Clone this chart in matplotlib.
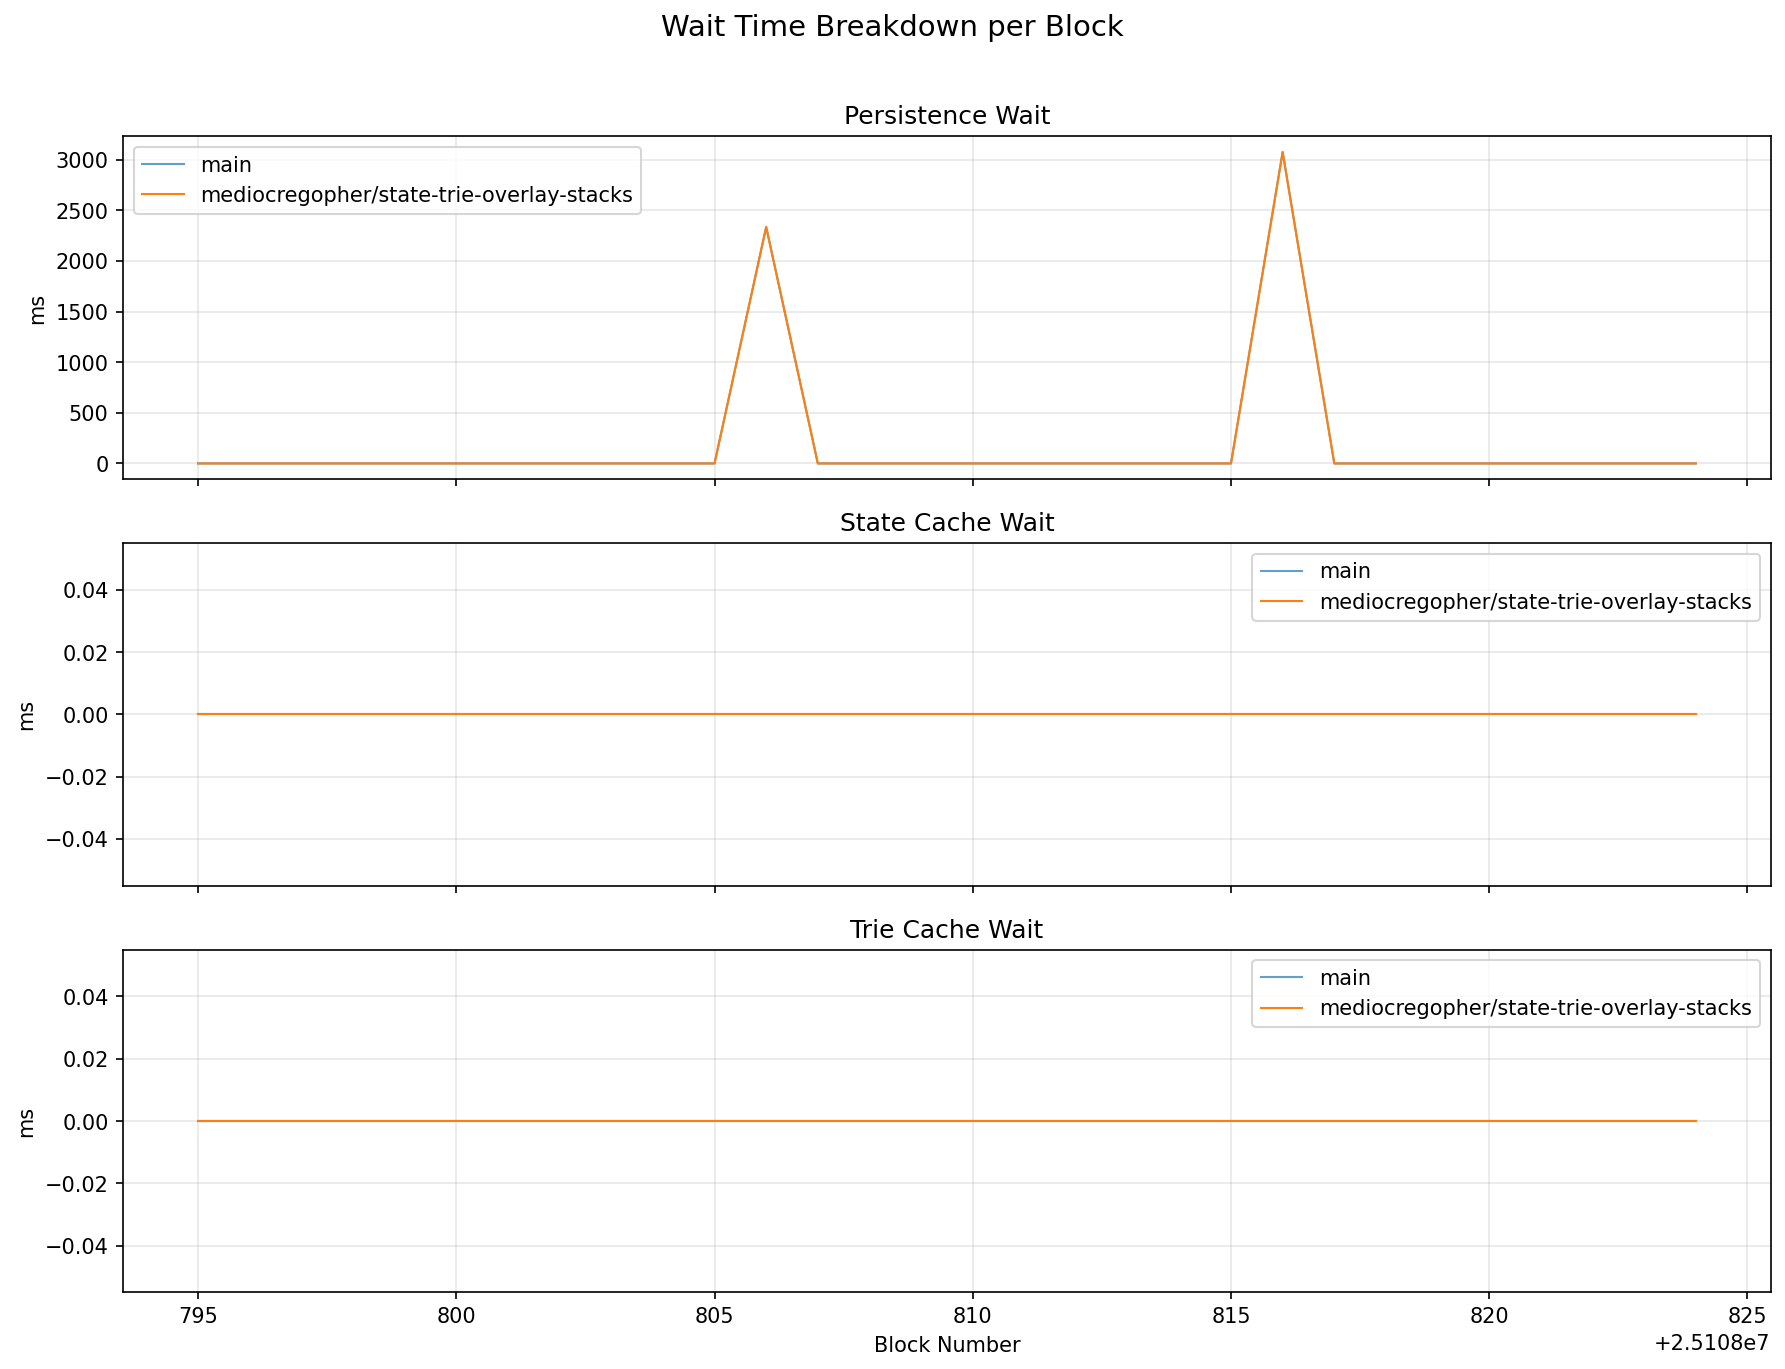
import numpy as np
from matplotlib import pyplot as plt

BLOCKS = list(range(25108795, 25108825))

PERSISTENCE_MAIN = [0] * 11 + [2335] + [0] * 9 + [3075] + [0] * 8
PERSISTENCE_BRANCH = [0] * 11 + [2335] + [0] * 9 + [3075] + [0] * 8
STATE_CACHE_MAIN = [0] * 30
STATE_CACHE_BRANCH = [0] * 30
TRIE_CACHE_MAIN = [0] * 30
TRIE_CACHE_BRANCH = [0] * 30

LABEL_MAIN = "main"
LABEL_BRANCH = "mediocregopher/state-trie-overlay-stacks"

PANELS = [
    ("Persistence Wait", PERSISTENCE_MAIN, PERSISTENCE_BRANCH, "upper left"),
    ("State Cache Wait", STATE_CACHE_MAIN, STATE_CACHE_BRANCH, "upper right"),
    ("Trie Cache Wait", TRIE_CACHE_MAIN, TRIE_CACHE_BRANCH, "upper right"),
]


def main():
    fig, axes = plt.subplots(3, 1, figsize=(11.9, 9.13), sharex=True)
    fig.suptitle("Wait Time Breakdown per Block", fontsize=14, y=0.99)

    for ax, (title, main_vals, branch_vals, loc) in zip(axes, PANELS):
        ax.plot(BLOCKS, main_vals, label=LABEL_MAIN, color="C0", linewidth=1, alpha=0.7)
        ax.plot(BLOCKS, branch_vals, label=LABEL_BRANCH, color="C1", linewidth=1)
        ax.set_title(title)
        ax.set_ylabel("ms")
        ax.grid(True, alpha=0.3)
        ax.legend(loc=loc)

    axes[-1].set_xlabel("Block Number")
    fig.subplots_adjust(left=0.069, right=0.992, top=0.9, bottom=0.056, hspace=0.187)
    plt.savefig("out.png", dpi=150)


if __name__ == "__main__":
    main()
